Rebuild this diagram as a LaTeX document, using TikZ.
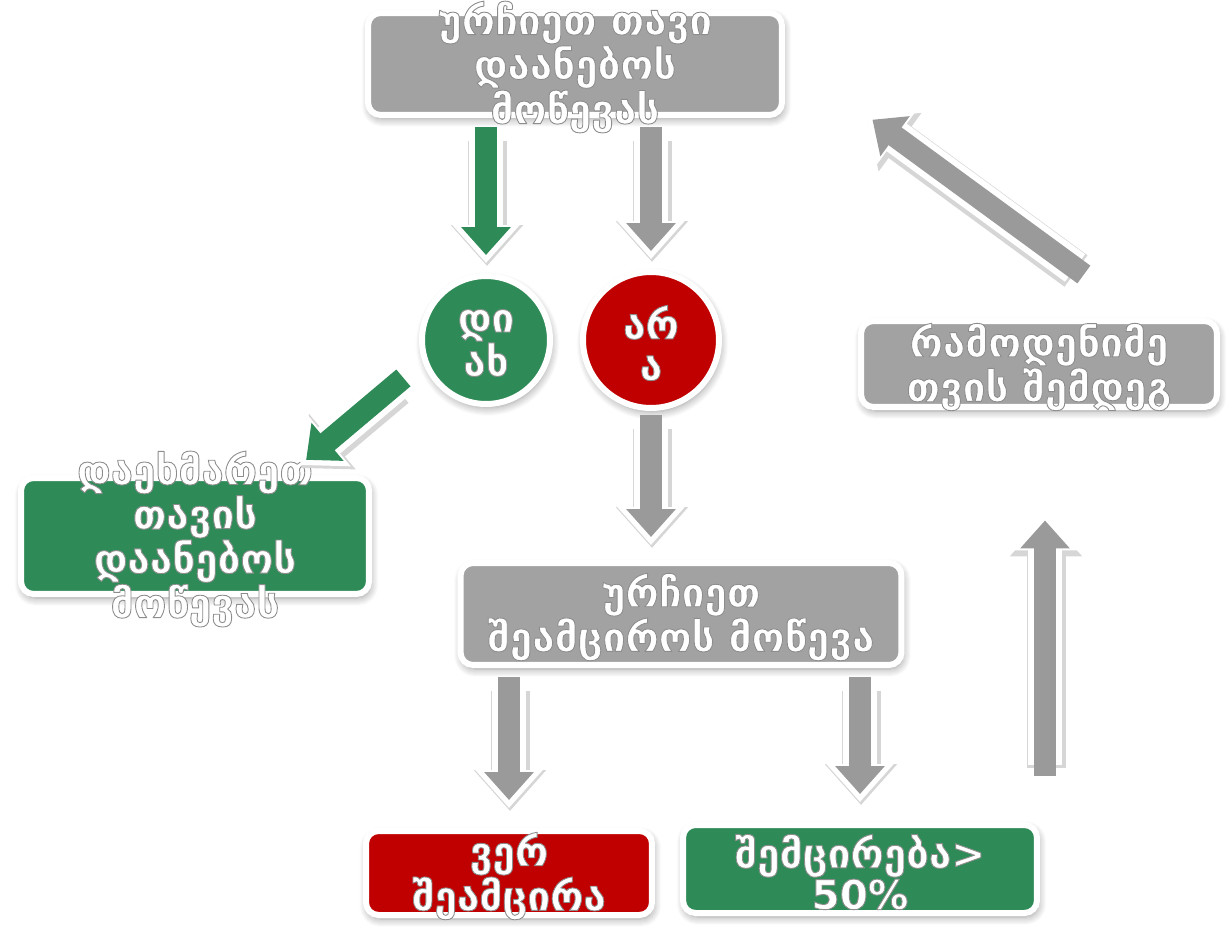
\documentclass[tikz,border=0pt]{standalone}
\usepackage{fontspec}
\setmainfont{DejaVu Sans}
\usetikzlibrary{calc,arrows.meta,shadows.blur}
\definecolor{boxgray}{HTML}{A2A2A2}
\definecolor{boxgreen}{HTML}{2E8B57}
\definecolor{boxred}{HTML}{C00000}
\definecolor{arrgray}{HTML}{9A9A9A}
% white letters with a grey rim
\def\greyrim{\color{white}\special{pdf:literal direct 2 Tr 0.5 w 1 j 0.55 G}}
\def\norim{\special{pdf:literal direct 0 Tr}}
\tikzset{
	softshadow/.style={blur shadow={shadow blur steps=8, shadow blur radius=1.6mm, shadow xshift=0.3mm, shadow yshift=-0.8mm, shadow opacity=40}},
	box/.style={rectangle, rounded corners=2.5mm, draw=white, line width=1.2mm, softshadow},
	disc/.style={circle, draw=white, line width=1.2mm, softshadow},
	txt/.style={font=\bfseries\fontsize{23}{23.5}\selectfont\greyrim, align=center, inner sep=0pt, yshift=-0.6mm,
		execute at end node=\norim},
	blockarr/.style={line width=4.4mm, line cap=rect, -{Triangle[width=9.6mm,length=5.6mm,sep=1.6mm]},
		preaction={draw=black!16, line width=7.8mm, transform canvas={xshift=0.2mm, yshift=-0.6mm}, -{Triangle[width=14mm,length=8.2mm]}},
		preaction={draw=white, line width=6.8mm, -{Triangle[width=13mm,length=7.6mm]}}},
	garr/.style={blockarr, draw=boxgreen},
	rarr/.style={blockarr, draw=arrgray}
}

\begin{document}
\begin{tikzpicture}[x=0.02cm, y=-0.02cm]
		%%%%% START %%%%%
		\useasboundingbox (0,0) rectangle (1228,927);
		
		\node[box, fill=boxgray, minimum width=8.28cm, minimum height=2.04cm,
			label={[txt]center:ურჩიეთ თავი\\დაანებოს\\მოწევას}] (advise) at (575,64) {};
		
		\node[disc, fill=boxgreen, minimum size=2.56cm,
			label={[txt]center:დი\\ახ}] (yes) at (486,340) {};
		\node[disc, fill=boxred, minimum size=2.72cm,
			label={[txt]center:არ\\ა}] (no) at (651,340) {};
		
		\node[box, fill=boxgreen, minimum width=6.96cm, minimum height=2.32cm,
			label={[txt]center:დაეხმარეთ\\თავის\\დაანებოს\\მოწევას}] (help) at (195,536) {};
		
		\node[box, fill=boxgray, minimum width=8.82cm, minimum height=2.04cm,
			label={[txt]center:ურჩიეთ\\შეამციროს მოწევა}] (reduce) at (681,614) {};
		
		\node[box, fill=boxgray, minimum width=7.12cm, minimum height=1.72cm,
			label={[txt]center:რამოდენიმე\\თვის შემდეგ}] (later) at (1039,364) {};
		
		\node[box, fill=boxred, minimum width=5.72cm, minimum height=1.68cm,
			label={[txt]center:ვერ\\შეამცირა}] (failed) at (509,873) {};
		\node[box, fill=boxgreen, minimum width=7.08cm, minimum height=1.76cm,
			label={[txt]center:შემცირება>\\50\%}] (halved) at (860,869) {};
		
		% arrows
		\draw[garr, shorten <=0.4cm, shorten >=0.2cm] (yes.north |- advise.south) -- (yes.north);
		\draw[rarr, shorten <=0.4cm, shorten >=0.2cm] (no.north |- advise.south) -- (no.north);
		
		\coordinate (ystart) at (395,385);
		\coordinate (yend) at (300,465);
		\draw[garr] (ystart) -- (yend);
		
		\draw[rarr, shorten <=0.3cm, shorten >=0.3cm] (no.south) -- (no.south |- reduce.north);
		
		\draw[rarr, shorten <=0.4cm, shorten >=0.4cm] (failed.north |- reduce.south) -- (failed.north);
		\draw[rarr, shorten <=0.4cm, shorten >=0.4cm] (halved.north |- reduce.south) -- (halved.north);
		
		\coordinate (upfoot) at (1045,765);
		\draw[rarr, shorten >=2.05cm] (upfoot) -- (upfoot |- later.south);
		
		\coordinate (dstart) at (1075,268);
		\coordinate (dend) at (866,115);
		\draw[rarr] (dstart) -- (dend);
		
		%%%%% END %%%%%
\end{tikzpicture}
\end{document}
